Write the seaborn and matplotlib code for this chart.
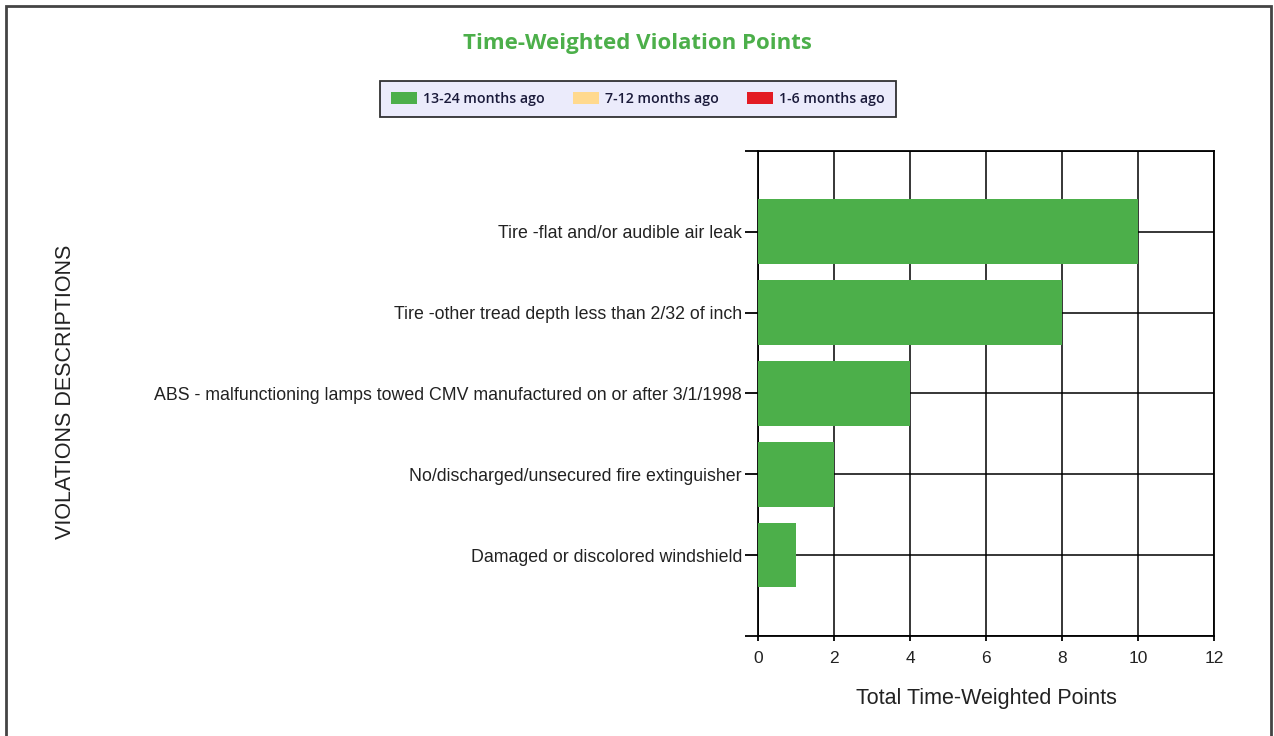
import matplotlib
matplotlib.use('Agg')
import matplotlib.pyplot as plt
import seaborn as sns
import pandas as pd
from matplotlib.patches import Patch, Rectangle

violations = ['Tire -flat and/or audible air leak',
              'Tire -other tread depth less than 2/32 of inch',
              'ABS - malfunctioning lamps towed CMV manufactured on or after 3/1/1998',
              'No/discharged/unsecured fire extinguisher',
              'Damaged or discolored windshield']
points = [10, 8, 4, 2, 1]
legend_labels = ['13-24 months ago', '7-12 months ago', '1-6 months ago']
legend_colors = ['#4CAF4A', '#FFD98E', '#E31B23']
x_ticks = [0, 2, 4, 6, 8, 10, 12]

df = pd.DataFrame({'violation': violations, 'points': points})

sns.set_style('white')
plt.rcParams['font.family'] = ['Liberation Sans', 'DejaVu Sans']

fig = plt.figure(figsize=(12.74, 7.36), dpi=100)
ax = fig.add_axes([0.595, 0.1359, 0.3579, 0.6590])

sns.barplot(data=df, y='violation', x='points', orient='h', color=legend_colors[0],
            width=0.8, saturation=1, linewidth=0, edgecolor='none', ax=ax, zorder=3)

ax.set_xlim(0, 12)
ax.set_ylim(5, -1)
ax.set_xticks(x_ticks)
ax.set_xticklabels([str(t) for t in x_ticks], fontsize=12.5, color='#222222')
ax.set_yticks(range(-1, 6))
ax.set_yticklabels([''] + violations + [''], fontsize=12.8, color='#222222')
ax.tick_params(axis='y', left=True, length=9.5, width=1.3, color='black', pad=2)
ax.tick_params(axis='x', bottom=True, length=3.5, width=1.3, color='black', pad=7)
ax.grid(True, color='black', linewidth=1.1)
ax.set_axisbelow(True)
for s in ax.spines.values():
    s.set_color('black')
    s.set_linewidth(1.3)

ax.set_ylabel('')
ax.set_xlabel('Total Time-Weighted Points', fontsize=15.5, color='#222222', labelpad=16)

fig.text(66 / 1274, 1 - 392 / 736, 'VIOLATIONS DESCRIPTIONS', rotation=90,
         ha='center', va='center', fontsize=15.5, color='#222222')

fig.text(0.5, 1 - 44 / 736, 'Time-Weighted Violation Points', ha='center', va='center',
         fontsize=16, fontweight='bold', color='#4CAF4A', family=['Open Sans', 'DejaVu Sans'])

handles = [Patch(facecolor=c, edgecolor='none') for c in legend_colors]
leg = fig.legend(handles, legend_labels, loc='center', bbox_to_anchor=(0.5008, 1 - 99 / 736),
                 ncol=3, frameon=True, fancybox=False,
                 handlelength=1.8, handleheight=0.9, handletextpad=0.45, columnspacing=2.0,
                 borderpad=0.8,
                 prop={'family': ['Open Sans', 'DejaVu Sans'], 'weight': 'semibold', 'size': 10.2})
leg.get_frame().set_facecolor('#E6E6FA')
leg.get_frame().set_edgecolor('black')
leg.get_frame().set_linewidth(1.3)
for t in leg.get_texts():
    t.set_color('#1A1A3A')

fig.patches.append(Rectangle((6 / 1274, -0.01), 1265 / 1274, 1 - 6 / 736 + 0.01,
                             transform=fig.transFigure, fill=False,
                             edgecolor='#444444', linewidth=2))

fig.savefig('out.png', dpi=100)
